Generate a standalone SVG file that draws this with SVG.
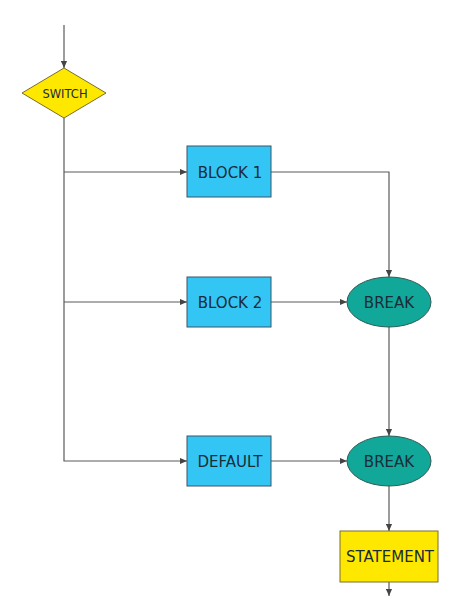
<svg xmlns="http://www.w3.org/2000/svg" width="474" height="607" viewBox="0 0 474 607">
<style>
.c{fill:none;stroke:#5a5a5a;stroke-width:1.2}
.t{font-family:"DejaVu Sans",Verdana,sans-serif;font-size:15px;fill:#1a2c38;text-anchor:middle;dominant-baseline:central}
.blk{fill:#33c6f4;stroke:#3d5566;stroke-width:1}
.yel{fill:#ffe800;stroke:#7a6e2a;stroke-width:1}
.brk{fill:#12a899;stroke:#2e5a55;stroke-width:1}
</style>
<defs>
<marker id="a" viewBox="0 0 8 8" refX="8" refY="4" markerWidth="7" markerHeight="7" markerUnits="userSpaceOnUse" orient="auto">
<path d="M0,0.5 L8,4 L0,7.5 z" fill="#444"/>
</marker>
</defs>
<rect width="474" height="607" fill="#fff"/>
<g id="connectors">
<path class="c" d="M64,25 V68" marker-end="url(#a)"/>
<path class="c" d="M64,118 V461 H187" marker-end="url(#a)"/>
<path class="c" d="M64,172 H187" marker-end="url(#a)"/>
<path class="c" d="M64,302 H187" marker-end="url(#a)"/>
<path class="c" d="M271,172 H389 V277" marker-end="url(#a)"/>
<path class="c" d="M271,302 H347" marker-end="url(#a)"/>
<path class="c" d="M389,327 V436" marker-end="url(#a)"/>
<path class="c" d="M271,461 H347" marker-end="url(#a)"/>
<path class="c" d="M389,486 V531" marker-end="url(#a)"/>
<path class="c" d="M389,582 V596" marker-end="url(#a)"/>
</g>
<g id="switch">
<polygon class="yel" points="64,68 106,93 64,118 22,93"/>
<text class="t" x="65" y="94" style="font-size:11.5px">SWITCH</text>
</g>
<g id="block1">
<rect class="blk" x="187" y="146" width="84" height="51"/>
<text class="t" x="230" y="173">BLOCK 1</text>
</g>
<g id="block2">
<rect class="blk" x="187" y="277" width="84" height="50"/>
<text class="t" x="230" y="303">BLOCK 2</text>
</g>
<g id="default">
<rect class="blk" x="187" y="436" width="84" height="50"/>
<text class="t" x="230" y="462">DEFAULT</text>
</g>
<g id="break1">
<ellipse class="brk" cx="389" cy="302" rx="42" ry="25"/>
<text class="t" x="389" y="303">BREAK</text>
</g>
<g id="break2">
<ellipse class="brk" cx="389" cy="461" rx="42" ry="25"/>
<text class="t" x="389" y="462">BREAK</text>
</g>
<g id="statement">
<rect class="yel" x="340" y="531" width="98" height="51"/>
<text class="t" x="390" y="557">STATEMENT</text>
</g>
</svg>
